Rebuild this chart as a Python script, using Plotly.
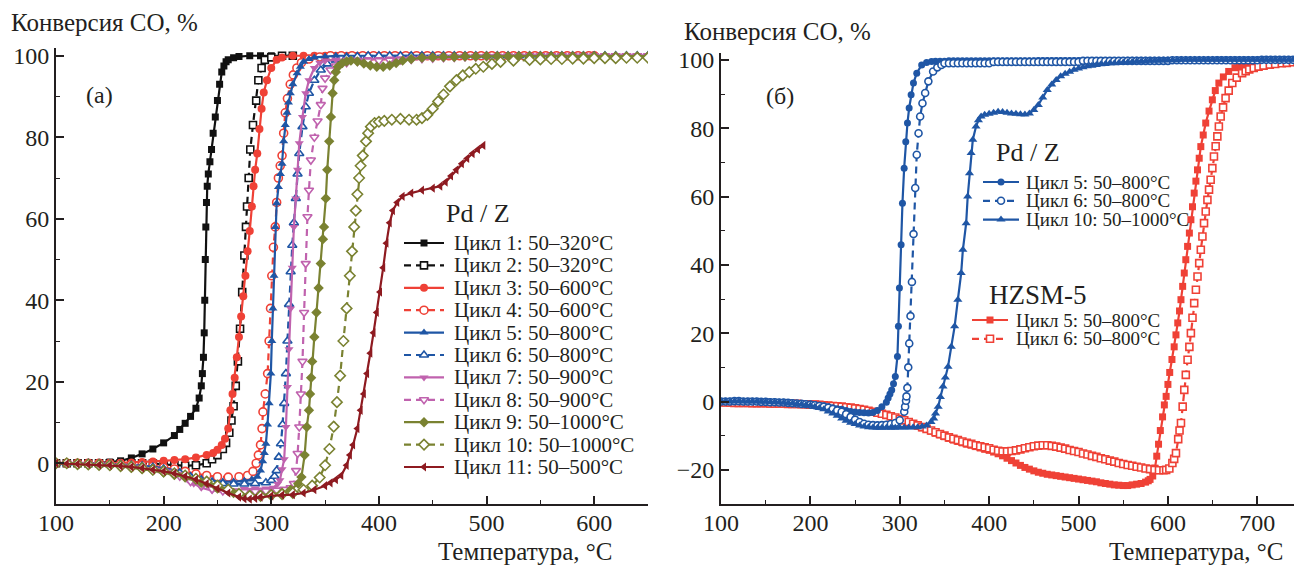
import plotly.graph_objects as go

SW, SH = 1302, 565          # browser window
OFF = 8                     # default page margin around the plot div
W, H = SW - OFF, SH - OFF   # figure size
FONT = "Liberation Serif"
TXT = "#231f20"

# ---------------- panel (а): Pd/Z, cycles 1-11 ----------------
c1_T = [100,110,120,130,140,150,160,170,180,190,200,210,215,220,225,230,233,235,236,237,237.7,238.2,238.7,239.2,239.8,240.5,241.5,243,244.5,246,248,250,252,254,256,258,260,265,270,280,290,300,310,320]
c1_Y = [0,0,0,0,0.1,0.3,0.6,1.3,2.3,3.5,5,6.8,8.3,9.8,11.5,13.5,16,19,22,26,32,40,50,58,64,68,71,74,77,81,85,89,93,96,97.5,98.5,99,99.5,99.8,100,100,100,100,100]

c2_T = [100,110,120,130,140,150,160,170,180,190,200,210,220,230,240,245,250,255,258,261,263,265,267,269,271,273,275,276.5,277.5,279,280.5,283,286,288,291,294,300,310,320]
c2_Y = [0,0,0,0,0,0,0,0,0,-0.1,-0.3,-0.5,-0.6,-0.5,0,1,2,3.5,5,7.5,10.5,14,19,25,33,42,51,58,63,70,77,83,89,94,97,99,99.6,100,100]

c3_T = [100,110,120,130,140,150,160,170,180,190,200,210,220,230,240,246,250,254,257,260,262,264,266,268,270,272,274,276,278,280,282,283.5,285,287,289,291,293,296,300,305,310,320,330,340,350,360,370,380,390,400,410,420,430,440,450,460,470,480,490,500,510,520,530,540,550,560,570,580,590,600]
c3_Y = [0,0,0,0,0,0,0.1,0.2,0.3,0.4,0.6,0.8,1,1.4,2,2.5,3.3,4.5,6,8.5,13,17,21,26,31,36,41,46,52,57,63,68,72,76,82,87,91,94,97,99,99.6,100,100,100,100,100,100,100,100,100,100,100,100,100,100,100,100,100,100,100,100,100,100,100,100,100,100,100,100,100]

c4_T = [100,110,120,130,140,150,160,170,180,190,200,210,220,230,240,250,260,270,278,283,286,288,290,291.4,292.3,294.4,296.6,298,299.3,300.5,302,303.7,305,306.6,308.3,310,311.5,313,315,317.6,320.5,323.8,328,335,345,355,365,375,385,395,405,415,425,435,445,455,465,475,485,495,505,515,525,535,545,555,565,575,585,595,600]
c4_Y = [0,0,0,0,0,-0.1,-0.2,-0.3,-0.5,-0.7,-1,-1.4,-2,-2.6,-3,-3.3,-3.4,-3.3,-3,-2,0,2,4.5,8.5,12.6,17,22,30,38,46,53,58,64,70,73,75.5,81,86,89.5,93,95.3,97,98.3,99.2,99.7,100,100,100,100,100,100,100,100,100,100,100,100,100,100,100,100,100,100,100,100,100,100,100,100,100,100]

c5_T = [100,110,120,130,140,150,160,170,180,190,200,215,225,235,245,255,265,275,282,287,290,292,293.5,295,296.5,298,299.6,300.5,301.5,302.5,303.7,305,306.7,308.5,310,311.5,313,314.6,316,317.7,320,324,327,330,335,340,350,360,370,380,390,400,410,420,430,440,450,460,470,480,490,500,510,520,530,540,550,560,570,580,590,600,610,620,630,640,650]
c5_Y = [0,0,0,0,-0.1,-0.2,-0.3,-0.5,-0.6,-0.9,-1.2,-2,-3,-3.8,-4.3,-4.5,-4.5,-4.3,-4,-3.3,-1.8,0.5,2.5,4.8,9.5,14.7,22,30,38,46,58,63.8,67.8,71,73.5,79,83,86,88.5,90.8,93,95.7,97.3,98.5,99.2,99.6,99.8,100,100,100,100,100,100,100,100,100,100,100,100,100,100,100,100,100,100,100,100,100,100,100,100,100,100,100,100,100,100]

c6_T = [100,110,120,130,140,150,160,170,180,190,200,215,225,235,245,255,265,275,285,295,300,303,305,307,309,310.5,312,313.6,315,316.5,318,319.5,321,322.8,324.4,326,329,332,335,340,346,352,360,370,380,390,400,410,420,430,440,450,460,470,480,490,500,510,520,530,540,550,560,570,580,590,600,610,620,630,640,650]
c6_Y = [0,0,0,0,-0.1,-0.2,-0.3,-0.5,-0.7,-1,-1.4,-2.4,-3.4,-4.2,-4.7,-5,-5.1,-5.1,-5,-4.8,-4.2,-3.2,-1.8,1.5,4.8,9.5,14.7,22,30,39,47,53.5,59,65,71,76,82.6,87.5,90.8,94,96.5,98,99,99.5,99.8,100,100,100,100,100,100,100,100,100,100,100,100,100,100,100,100,100,100,100,100,100,100,100,100,100,100,100]

c7_T = [100,110,120,130,140,150,160,170,180,195,205,215,222,228,235,245,255,265,275,285,295,302,306,308,310,312,313.6,315,316.5,318,319.5,321,322.8,324.4,326,329,332,335,340,345,350,360,370,380,390,400,410,420,430,440,450,460,470,480,490,500,510,520,530,540,550,560,570,580,590,600,610,620,630,640,650]
c7_Y = [0,0,-0.1,-0.2,-0.3,-0.4,-0.6,-0.8,-1,-1.6,-2,-2.6,-4,-5,-6,-6.7,-6.8,-6.6,-6.3,-6.2,-6.2,-6,-5,-4.2,-1.5,1,8.9,18.7,28,38,48,58,65,72,78.5,85,90.8,94,97,98.3,98.8,99,99.1,99.1,99.2,99.2,99.3,99.4,99.5,99.6,99.7,99.8,99.9,100,100,100,100,100,100,100,100,100,100,100,100,100,100,100,100,100,100]

c8_T = [100,110,120,130,140,150,160,170,180,190,200,215,225,235,245,255,265,275,285,295,305,312,318,321,323,324.5,326,327.5,329,330.5,332,333.6,335,336.8,340,343,346,347.6,350,355,360,370,380,390,400,410,420,430,440,450,460,470,480,490,500,510,520,530,540,550,560,570,580,590,600,610,620,630,640,650]
c8_Y = [0,0,-0.2,-0.3,-0.4,-0.5,-0.7,-0.9,-1.2,-1.6,-2,-3.2,-4.5,-5.5,-6.3,-6.8,-7,-7,-6.9,-6.8,-6.6,-6.4,-6,-5,-1.8,2.4,8.9,17,25,37,49,60.5,67,74.4,80,84,88,92,94.5,96.5,97.5,98.3,98.6,98.7,98.8,98.9,99,99.1,99.3,99.4,99.5,99.6,99.7,99.7,99.8,99.8,99.9,99.9,100,100,100,100,100,100,100,100,100,100,100,100]

c9_T = [100,110,120,130,140,150,160,170,180,190,200,210,220,235,250,265,280,290,300,310,318,325,328,331,333,335,336,337,338,340,342,344,346,348,349,350.7,352,353.8,355.4,357,358.5,360,362,366,370,374,380,386,392,398,404,410,416,422,430,440,450,460,470,480,490,500,510,520,530,540,550,560,570,580,590,600,610,620,630,640,650]
c9_Y = [0,0,-0.2,-0.3,-0.4,-0.6,-0.8,-1.1,-1.4,-1.8,-2.3,-2.9,-3.5,-4.8,-6.2,-7.3,-7.8,-7.8,-7.6,-7.2,-6.5,-5,-3.4,2,8.9,13,17,21,25,31,37,43,49,55,58,65,72,79,85,90.8,94,96,97.3,98.2,98.6,98.8,98.6,98.1,97.6,97.3,97.3,97.6,98.2,98.8,99.2,99.5,99.6,99.7,99.7,99.8,99.8,99.9,99.9,99.9,99.9,99.9,99.9,99.9,99.9,99.9,99.9,99.9,99.9,99.9,99.9,99.9,99.9]

c10_T = [100,110,120,130,140,150,160,170,180,190,200,210,220,230,240,250,260,270,280,290,300,310,320,330,338,345,350,354,358,361,364,367,370,373,375,377,378.5,380,381.6,383,385,388,390,392.5,396,400,405,412,420,428,435,440,445,450,455,460,466,472,478,484,490,497,505,513,525,540,550,560,570,580,590,600,610,620,630,640,650]
c10_Y = [0,0,-0.2,-0.3,-0.4,-0.5,-0.7,-0.9,-1.2,-1.6,-2,-2.5,-3,-3.8,-4.5,-5.5,-6.5,-7.5,-8,-8,-7.8,-7.6,-7.3,-6.5,-5.5,-3.5,-0.5,3.5,9,15,21.5,30,38,46,52,58,62,66,70,73,75.5,79,81,82.6,83.5,83.8,84,84.3,84.5,84.3,84.3,84.7,85.5,87,88.8,90.5,92.5,94,95.2,96,96.8,97.3,98,98.5,98.8,99,99.1,99.2,99.2,99.3,99.3,99.4,99.4,99.4,99.5,99.5,99.5]

c11_T = [100,110,120,130,140,150,160,170,180,190,200,210,220,230,240,250,260,270,275,280,285,290,300,310,320,330,340,350,355,360,365,370,373,376,380,383,386,389,392,395,398,401,404,407,410,413,417,422,430,440,450,457,462,467,472,477,482,487,492,497]
c11_Y = [0,-0.1,-0.2,-0.3,-0.4,-0.5,-0.7,-0.9,-1.2,-1.6,-2,-2.5,-3.2,-4,-5,-6.2,-7.3,-8.3,-8.7,-8.8,-8.6,-8.3,-8,-7.8,-7.7,-7.3,-6.5,-5.5,-4.8,-4,-3,-0.5,2,4.5,8.5,13,17,22,27,32,37,42,48,54,59,62,64,65.5,66.3,67,67.5,68,69,70.5,72,73.5,74.8,76,77,78]

labels_a = ["Цикл 1: 50–320°C", "Цикл 2: 50–320°C", "Цикл 3: 50–600°C", "Цикл 4: 50–600°C",
            "Цикл 5: 50–800°C", "Цикл 6: 50–800°C", "Цикл 7: 50–900°C", "Цикл 8: 50–900°C",
            "Цикл 9: 50–1000°C", "Цикл 10: 50–1000°C", "Цикл 11: 50–500°C"]

# ---------------- panel (б): Pd/Z cycles 5, 6, 10 and HZSM-5 cycles 5, 6 ----------------
b5_T = [100,105,110,115,120,125,130,135,140,145,150,155,160,165,170,175,180,185,190,195,200,205,210,215,220,225,230,235,240,245,250,255,260,265,270,275,280,285,
        287,289,291,293,295,297.4,298.5,299.6,301.5,303,304.9,306.7,308.6,310.5,312.7,315.3,319,324.5,330,335.5,
        340,345,350,355,360,365,370,375,380,385,390,395,400,405,410,415,420,425,430,435,440,445,450,455,460,465,470,475,480,485,490,495,500,505,510,515,520,525,530,535,540,545,550,555,560,565,570,575,580,585,590,595,600,605,610,615,620,625,630,635,640,645,650,655,660,665,670,675,680,685,690,695,700,705,710,715,720,725,730,735,740,745,750]
b5_Y = [0,0,0.1,0.1,0.1,0,0,0,0,-0.1,-0.1,-0.1,-0.1,-0.2,-0.2,-0.3,-0.4,-0.5,-0.6,-0.7,-0.8,-0.9,-1.1,-1.3,-1.5,-1.8,-2.1,-2.3,-2.6,-2.9,-3.1,-3.2,-3.3,-3.4,-3.2,-2.6,-1.5,-0.2,
        1,2.2,3.4,5.2,7.3,13.2,22,33.2,45.9,58,68.3,76,81.5,85.9,89.8,93.2,96.1,98.5,99.2,99.5,
        99.6,99.6,99.6,
        99.7,99.7,99.7,99.7,99.7,99.7,99.7,99.7,99.7,99.7,99.7,99.7,99.7,99.7,99.7,99.7,99.7,99.7,99.7,99.7,
        99.8,99.8,99.8,99.8,99.8,99.8,99.8,99.8,99.8,99.8,99.8,99.8,99.8,99.8,99.8,99.8,99.8,99.8,99.8,99.8,
        99.9,99.9,99.9,99.9,99.9,99.9,99.9,99.9,99.9,99.9,99.9,99.9,99.9,99.9,99.9,99.9,99.9,99.9,99.9,99.9,
        100,100,100,100,100,100,100,100,100,100,100,100,100,100,100,100,100,100,100,100]

b6_T = [100,105,110,115,120,125,130,135,140,145,150,155,160,165,170,175,180,185,190,195,200,205,210,215,220,225,230,235,240,245,250,255,260,265,270,275,280,285,290,295,300,305,
        306,307,307.5,308.5,309.5,310.6,312,313.6,315.4,317.3,319,321,322.8,325.4,328.4,332,337.3,342,346.6,
        350,355,360,365,370,375,380,385,390,395,400,405,410,415,420,425,430,435,440,445,450,455,460,465,470,475,480,485,490,495,500,505,510,515,520,525,530,535,540,545,550,555,560,565,570,575,580,585,590,595,600,605,610,615,620,625,630,635,640,645,650,655,660,665,670,675,680,685,690,695,700,705,710,715,720,725,730,735,740,745,750]
b6_Y = [0,0,0,0.1,0.1,0,0,0,0,-0.1,-0.1,-0.2,-0.2,-0.3,-0.3,-0.4,-0.5,-0.6,-0.7,-0.8,-0.9,-1.1,-1.3,-1.5,-1.8,-2.2,-2.6,-3,-3.7,-4.5,-5.3,-6,-6.5,-6.8,-6.9,-7,-6.9,-6.8,-6.6,-6.3,-5.5,-3,
        -1.5,0.2,1.5,4,10,17,25,35,49,62.5,72.2,78.5,83.4,87.3,90.3,93.7,96.6,97.8,98.5,
        99,99,99,99,99,99,99,99,99,99,99,
        99.4,99.4,99.4,99.4,99.4,99.4,99.4,99.4,99.4,99.4,99.4,99.4,99.4,99.4,99.4,99.4,99.4,99.4,99.4,99.4,
        99.7,99.7,99.7,99.7,99.7,99.7,99.7,99.7,99.7,99.7,99.7,99.7,99.7,99.7,99.7,99.7,99.7,99.7,99.7,99.7,
        99.9,99.9,99.9,99.9,99.9,99.9,99.9,99.9,99.9,99.9,99.9,99.9,99.9,99.9,99.9,99.9,99.9,99.9,99.9,99.9,
        100,100,100,100,100,100,100,100,100,100]

b10_T = [100,105,110,115,120,125,130,135,140,145,150,155,160,165,170,175,180,185,190,195,200,205,210,215,220,225,230,235,240,245,250,255,260,265,270,275,280,285,290,295,300,305,310,315,320,325,330,335,
         338,340,343,345.5,348.4,351,354,357.6,361.4,365,368.7,370.6,374.3,376,378,379.8,381.7,385.3,388,391,
         395,400,405,410,415,420,425,430,435,440,445,450,455,460,465,470,475,480,485,490,495,500,505,510,515,520,525,530,535,540,545,550,555,560,565,570,575,580,585,590,595,600,605,610,
         615,620,625,630,635,640,645,650,655,660,665,670,675,680,685,690,695,700,705,710,715,720,725,730,735,740,745,750]
b10_Y = [0,0,0,0.1,0.1,0,0,0,0,-0.1,-0.1,-0.2,-0.2,-0.3,-0.4,-0.5,-0.6,-0.7,-0.9,-1,-1.2,-1.5,-1.9,-2.3,-2.9,-3.5,-4.2,-5,-5.6,-6.2,-6.6,-7,-7.3,-7.5,-7.6,-7.7,-7.7,-7.7,-7.7,-7.7,-7.6,-7.6,-7.6,-7.5,-7.5,-7.3,-7,-6,
         -5,-3.5,-1.5,1.3,4.4,7,10.2,16,22,29.8,37.6,44.4,52.2,60,66.8,72.7,76.6,80.5,82.3,83.4,
         83.9,84.2,84.5,84.8,84.7,84.5,84.3,84.2,84.1,84,84.3,85.3,86.8,89,91.2,92.8,94.1,95.2,95.9,96.5,97.1,97.5,97.8,98.1,98.3,98.5,98.7,98.8,99,99,99.1,99.2,99.3,99.4,99.5,99.5,99.6,99.7,99.7,99.8,99.8,99.9,99.9,99.9,
         100,100,100,100,100,100,100,100,100,100,100,100,100,100,100,100,100,100,100,100,100,100,100,100,100,100,100,100]

z5_T = [100,105,110,115,120,125,130,135,140,145,150,155,160,165,170,175,180,185,190,195,200,205,210,215,220,225,230,235,240,245,250,255,260,265,270,275,280,285,290,295,300,305,310,315,320,325,330,335,340,345,350,355,360,365,370,375,380,385,390,395,400,405,410,415,420,425,430,435,440,445,450,455,460,465,470,475,480,485,490,495,500,505,510,515,520,525,530,535,540,545,550,555,560,565,570,575,
        578,580,583,585.5,587.5,589.5,591.5,594,596,598,600,602,604.5,607,609,611,613,614.6,616.5,618.3,620,622,624,625.7,627.5,629.4,631.3,633.1,635,636.8,639.5,642.3,646,649.7,653,657,662,668,675,680,685,690,695,700,705,710,715,720,725,730,735,740,745,750]
z5_Y = [-0.3,-0.3,-0.4,-0.4,-0.5,-0.5,-0.5,-0.6,-0.6,-0.6,
        -0.6,-0.7,-0.7,-0.7,-0.7,-0.8,-0.8,-0.8,-0.8,-0.9,
        -0.9,-1,-1.1,-1.2,-1.3,-1.4,-1.5,-1.6,-1.8,-1.9,
        -2.1,-2.3,-2.5,-2.8,-3.1,-3.4,-3.8,-4.1,-4.5,-4.9,
        -5.3,-5.7,-6.2,-6.7,-7.2,-7.7,-8.2,-8.7,-9.3,-9.8,
        -10.3,-10.8,-11.3,-11.7,-12.1,-12.5,-12.8,-13.2,-13.6,-14,
        -14.3,-14.8,-15.3,-15.9,-16.6,-17.3,-18,-18.7,-19.3,-19.8,
        -20.3,-20.7,-21,-21.3,-21.5,-21.7,-21.9,-22.1,-22.3,-22.5,
        -22.7,-22.9,-23.1,-23.3,-23.5,-23.8,-24,-24.2,-24.4,-24.5,
        -24.6,-24.6,-24.4,-24.2,-24,-23.6,
        -23.2,-22.8,-21.8,-19.5,-16,-12.5,-8.5,-4.5,-1,1.5,5,8.5,12.3,16,19.5,23,26.5,29.8,33.7,37.6,41.5,45.4,49.3,53.2,57,61,64.5,67.8,71.2,74.6,78,81.5,85,88.3,91,93.2,95,96.6,97.7,98.2,98.6,99,99.2,99.4,99.5,99.6,99.7,99.8,99.8,99.9,99.9,99.9,100,100]

z6_T = [100,105,110,115,120,125,130,135,140,145,150,155,160,165,170,175,180,185,190,195,200,205,210,215,220,225,230,235,240,245,250,255,260,265,270,275,280,285,290,295,300,305,310,315,320,325,330,335,340,345,350,355,360,365,370,375,380,385,390,395,400,405,410,415,420,425,430,435,440,445,450,455,460,465,470,475,480,485,490,495,500,505,510,515,520,525,530,535,540,545,550,555,560,565,570,575,580,585,590,595,
        598,601.6,605,607,609,611.5,613,614.6,616.5,618.3,620,622,624,625.7,627.5,629.4,631.3,633.1,635,636.8,638.6,640.4,642.3,644.2,646,647.8,649.7,651.5,653.4,655.3,657,659,661.7,664.5,668,672,677,683,687,691,696,701.4,707,714,720,727.4,733,740,745,750]
z6_Y = [-0.2,-0.3,-0.3,-0.4,-0.4,-0.4,-0.4,-0.5,-0.5,-0.5,
        -0.5,-0.6,-0.6,-0.6,-0.6,-0.7,-0.7,-0.7,-0.8,-0.8,
        -0.9,-0.9,-1,-1.1,-1.2,-1.3,-1.4,-1.5,-1.7,-1.8,
        -2,-2.2,-2.4,-2.7,-3,-3.3,-3.6,-3.9,-4.3,-4.7,
        -5.1,-5.5,-6,-6.5,-7,-7.5,-8,-8.5,-9,-9.5,
        -10,-10.5,-10.9,-11.3,-11.7,-12.1,-12.4,-12.8,-13.1,-13.4,
        -13.7,-14.1,-14.4,-14.6,-14.6,-14.5,-14.3,-14,-13.7,-13.4,
        -13.1,-12.9,-12.8,-12.8,-13,-13.2,-13.5,-13.8,-14.2,-14.5,
        -14.8,-15.2,-15.5,-15.9,-16.2,-16.6,-16.9,-17.3,-17.6,-18,
        -18.3,-18.6,-18.8,-19.1,-19.3,-19.6,-19.8,-20,-20.1,-20.1,
        -20,-19.6,-18,-16.8,-15.1,-11,-8.5,-6.3,-1.5,3.4,7.8,12.2,16,20,24.5,28.8,32.7,36.6,40.5,44.4,48.3,52.2,55.6,59,62,64.9,68.3,71.7,74.7,77.6,80.5,83.4,86.1,88.8,91,93.2,94.8,96.1,96.7,97.2,97.6,98,98.3,98.6,98.8,99,99.1,99.3,99.4,99.5]

for _t, _y in [(b5_T, b5_Y), (b6_T, b6_Y), (b10_T, b10_Y), (z5_T, z5_Y), (z6_T, z6_Y)]:
    assert len(_t) == len(_y), (len(_t), len(_y))

labels_b_pd = ["Цикл 5: 50–800°C", "Цикл 6: 50–800°C", "Цикл 10: 50–1000°C"]
labels_b_z = ["Цикл 5: 50–800°C", "Цикл 6: 50–800°C"]

x_ticks_a = [100, 200, 300, 400, 500, 600]
x_ticks_b = [100, 200, 300, 400, 500, 600, 700]
y_ticks_a = [0, 20, 40, 60, 80, 100]
y_ticks_b = [-20, 0, 20, 40, 60, 80, 100]

# ---------------- styles ----------------
BLACK = "#111111"
RED = "#ef4136"
BLUE = "#1f56a5"
MAG = "#c062ae"
OLIVE = "#7a8231"
DRED = "#8e1a20"
DASH = "7px,5px"

series_a = [
    (c1_T, c1_Y, BLACK, "square", True, "solid", 7),
    (c2_T, c2_Y, BLACK, "square", False, DASH, 7),
    (c3_T, c3_Y, RED, "circle", True, "solid", 8),
    (c4_T, c4_Y, RED, "circle", False, DASH, 8),
    (c5_T, c5_Y, BLUE, "triangle-up", True, "solid", 8),
    (c6_T, c6_Y, BLUE, "triangle-up", False, DASH, 8),
    (c7_T, c7_Y, MAG, "triangle-down", True, "solid", 8),
    (c8_T, c8_Y, MAG, "triangle-down", False, DASH, 8),
    (c9_T, c9_Y, OLIVE, "diamond", True, "solid", 8),
    (c10_T, c10_Y, OLIVE, "diamond", False, DASH, 8),
    (c11_T, c11_Y, DRED, "triangle-left", True, "solid", 8),
]
series_b_z = [
    (z5_T, z5_Y, RED, "square", True, "solid", 7),
    (z6_T, z6_Y, RED, "square", False, DASH, 7),
]
series_b_pd = [
    (b5_T, b5_Y, BLUE, "circle", True, "solid", 7),
    (b6_T, b6_Y, BLUE, "circle", False, DASH, 7),
    (b10_T, b10_Y, BLUE, "triangle-up", True, "solid", 8),
]


def marker_of(color, symbol, filled, size):
    if filled:
        return dict(symbol=symbol, size=size, color=color, line=dict(width=0))
    return dict(symbol=symbol, size=size, color="white", line=dict(color=color, width=1.6))


fig = go.Figure()


def add_curve(s, xa, ya):
    T, Y, color, symbol, filled, dash, size = s
    fig.add_trace(go.Scatter(x=T, y=Y, mode="lines+markers", xaxis=xa, yaxis=ya,
                             line=dict(color=color, width=2.2, dash=dash),
                             marker=marker_of(color, symbol, filled, size),
                             showlegend=False, hoverinfo="skip"))


for s in series_a:
    add_curve(s, "x", "y")
for s in series_b_z:
    add_curve(s, "x2", "y2")
for s in series_b_pd:
    add_curve(s, "x2", "y2")

# ---------------- manual legends on an overlay in window pixels ----------------
annotations = []


def legend_block(series, labels, title, title_xy, title_size, x0, x1, text_x, row0, drow, fsize):
    annotations.append(dict(x=title_xy[0], y=title_xy[1], xref="x3", yref="y3", text=title,
                            showarrow=False, xanchor="left", yanchor="middle",
                            font=dict(family=FONT, size=title_size, color=TXT)))
    for i, (s, lab) in enumerate(zip(series, labels)):
        _, _, color, symbol, filled, dash, size = s
        yy = row0 + i * drow
        xm = (x0 + x1) / 2
        fig.add_trace(go.Scatter(x=[x0, xm, x1], y=[yy, yy, yy], mode="lines+markers",
                                 xaxis="x3", yaxis="y3",
                                 line=dict(color=color, width=2.2, dash=dash),
                                 marker=dict(marker_of(color, symbol, filled, size), opacity=[0, 1, 0]),
                                 showlegend=False, hoverinfo="skip"))
        annotations.append(dict(x=text_x, y=yy, xref="x3", yref="y3", text=lab, showarrow=False,
                                xanchor="left", yanchor="middle",
                                font=dict(family=FONT, size=fsize, color=TXT)))


legend_block(series_a, labels_a, "Pd / Z", (444, 213), 26, 404, 444, 452, 243, 22.4, 21)
legend_block(series_b_pd, labels_b_pd, "Pd / Z", (994, 152), 26, 983, 1019, 1024, 182, 18.8, 19)
legend_block(series_b_z, labels_b_z, "HZSM-5", (987, 295), 27, 972, 1008, 1014, 320, 18.8, 19)

# ---------------- texts ----------------
def txt(x, y, s, size, xanchor="left"):
    annotations.append(dict(x=x, y=y, xref="x3", yref="y3", text=s, showarrow=False,
                            xanchor=xanchor, yanchor="middle",
                            font=dict(family=FONT, size=size, color=TXT)))


txt(9, 22, "Конверсия CO, %", 25)
txt(682, 31, "Конверсия CO, %", 25)
txt(84, 95, "(а)", 24)
txt(764, 96, "(б)", 24)
txt(615, 551, "Температура, °C", 25, "right")
txt(1286, 551, "Температура, °C", 25, "right")

# ---------------- axes ----------------
def px_x(px):
    return (px - OFF) / W


def px_y(py):
    return 1 - (py - OFF) / H


def xax(domain, rng, ticks, minor, anchor):
    return dict(domain=domain, range=rng, anchor=anchor, showline=True, linecolor=TXT, linewidth=2,
                ticks="inside", ticklen=8, tickwidth=1.5, tickcolor=TXT, tickvals=ticks,
                ticktext=[str(t) for t in ticks], automargin=False, ticklabelstandoff=-4,
                minor=dict(tickvals=minor, ticks="inside", ticklen=4, tickwidth=1, tickcolor=TXT),
                showgrid=False, zeroline=False, fixedrange=True,
                tickfont=dict(family=FONT, size=24, color=TXT))


def yax(domain, rng, ticks, minor, anchor):
    d = xax(domain, rng, ticks, minor, anchor)
    d["ticktext"] = [str(t).replace("-", "−") for t in ticks]
    d["ticklabelstandoff"] = 0
    return d


fig.update_layout(
    width=W, height=H, margin=dict(l=0, r=0, t=0, b=0, autoexpand=False),
    paper_bgcolor="white", plot_bgcolor="rgba(0,0,0,0)", showlegend=False,
    xaxis=xax([px_x(56), px_x(648)], [100, 650], x_ticks_a, [150, 250, 350, 450, 550, 650], "y"),
    yaxis=yax([px_y(504), px_y(47.6)], [-10, 102], y_ticks_a, [10, 30, 50, 70, 90], "x"),
    xaxis2=xax([px_x(721), 1.0], [100, 750], x_ticks_b, [150, 250, 350, 450, 550, 650], "y2"),
    yaxis2=yax([px_y(504), px_y(53)], [-30, 102], y_ticks_b, [-10, 10, 30, 50, 70, 90], "x2"),
    xaxis3=dict(domain=[0, 1], range=[OFF, SW], anchor="y3", visible=False, fixedrange=True, automargin=False),
    yaxis3=dict(domain=[0, 1], range=[SH, OFF], anchor="x3", visible=False, fixedrange=True, automargin=False),
    annotations=annotations,
)

fig.write_html("out.html")
